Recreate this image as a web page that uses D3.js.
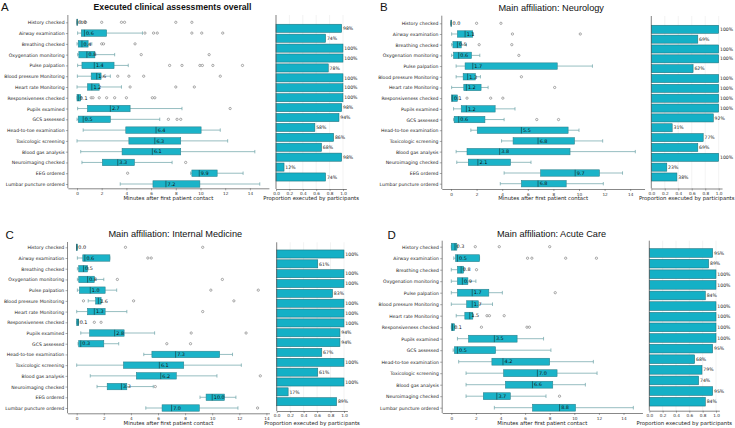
<!DOCTYPE html>
<html><head><meta charset="utf-8">
<script src="https://cdn.jsdelivr.net/npm/d3@7"></script>
<style>body{margin:0;background:#fff}svg{display:block}</style>
</head><body>
<svg id="c" width="735" height="428"></svg>
<script>
// ---------------- DATA ----------------
const categories = ["History checked","Airway examination","Breathing checked","Oxygenation monitoring","Pulse palpation","Blood pressure Monitoring","Heart rate Monitoring","Responsiveness checked","Pupils examined","GCS assessed","Head-to-toe examination","Toxicologic screening","Blood gas analysis","Neuroimaging checked","EEG ordered","Lumbar puncture ordered"];
const categoriesD = ["History checked","Airway examination","Breathing checked","Oxygenation monitoring","Pulse palpation","Blood pressure Monitoring","Heart rate Monitoring","Responsiveness checked","Pupils examined","GCS assessed","Head-to-toe examination","Toxicologic screening","Blood gas analysis","Neuroimaging checked","Lumbar puncture ordered"];
const panelLetters = ["A","B","C","D"];
const panelTitles = ["Executed clinical assessments overall","Main affiliation: Neurology","Main affiliation: Internal Medicine","Main affiliation: Acute Care"];
const minuteTicks = [0,2,4,6,8,10,12,14];
const proportionTicks = [0,0.2,0.4,0.6,0.8,1.0];
const minutesTitle = "Minutes after first patient contact";
const proportionTitle = "Proportion executed by participants";

// box stats per row: [whisker low, Q1, median, Q3, whisker high] (minutes)
const boxA = [[0,0,0.0,0.05,0.1],[0.05,0.35,0.6,2.4,5.3],[0,0.1,0.4,0.9,1.2],[0.05,0.15,0.8,1.45,3.05],[0.05,0.4,1.4,3.0,4.15],[0.03,1.15,1.6,1.95,2.7],[0,0.85,1.2,1.8,3.6],[0,0,0.1,0.3,0.35],[0.05,0.85,2.7,4.3,8.5],[0,0.1,0.5,2.7,6.7],[0.5,3.95,6.4,10.05,11.6],[0,4.2,6.3,8.4,12.2],[0.3,3.65,6.1,8.4,14.4],[0.4,2.05,3.3,4.65,7.7],[9.2,9.3,9.9,11.35,13.45],[3.5,6.15,7.2,9.95,14.8]];
const outA = [[0.4,0.7,2.0,3.6,3.85,8.0,9.3],[5.5,6.2,6.5,9.3,10.1,11.8],[2.0,2.15,4.7],[5.2,10.7],[7.5,8.5,9.95,10.15,11.0,13.4],[3.3,4.2,5.4,11.6],[4.3,8.0,9.5],[1.15,1.3,1.8,2.4,3.05,4.0,6.1,6.3],[12.4],[7.4,8.1,8.4],[],[],[],[8.8],[4.1],[]];
const propA = [0.98,0.74,1,1,0.78,1,1,1,0.98,0.94,0.58,0.86,0.68,0.98,0.12,0.74];

const boxB = [[0,0,0.0,0,0],[0.05,0.5,1.1,1.7,1.75],[0.05,0.15,0.5,0.8,1.2],[0.05,0.2,0.6,1.6,2.25],[0.4,1.1,1.7,8.3,11.05],[0.4,0.95,1.3,1.9,2.3],[0.05,1.0,1.2,2.35,2.9],[0.05,0.05,0.1,0.5,0.55],[0.2,0.8,1.2,3.45,5.0],[0.2,0.25,0.6,2.65,4.15],[1.55,2.05,5.5,9.15,10.0],[3.95,4.85,6.8,9.65,11.85],[0.4,1.25,3.8,9.3,14.4],[0.45,1.35,2.1,4.65,6.25],[4.15,7.0,9.7,11.6,13.4],[3.85,5.5,6.8,9.0,11.9]];
const outB = [[2.0,3.9],[4.8,10.1],[2.2,4.75],[5.3],[],[5.5],[8.1],[1.25,3.1,4.05],[],[6.7,8.4],[],[],[],[],[],[]];
const propB = [1,0.69,1,1,0.62,1,1,1,1,0.92,0.31,0.77,0.69,1,0.23,0.38];

const boxC = [[0,0,0.0,0.05,0.05],[0.05,0.45,0.6,2.45,2.45],[0.05,0.15,0.5,0.8,0.85],[0.05,0.15,0.8,1.3,2.0],[0.05,0.2,1.0,2.1,2.95],[0.85,1.4,1.6,1.8,1.9],[0,0.8,1.3,2.1,3.7],[0,0,0.1,0.15,0.15],[0.3,0.95,2.8,3.5,5.75],[0.1,0.15,0.3,2.0,3.1],[4.95,5.55,7.3,10.55,11.5],[0,3.45,6.1,7.9,12.15],[1.0,4.4,6.2,7.35,10.35],[1.5,2.25,3.3,3.7,5.65],[9.1,9.55,10.0,10.9,11.75],[5.1,6.3,7.0,9.05,11.9]];
const outC = [[3.6,9.3],[5.25,5.5],[],[3.0,10.75],[9.9,13.4],[0.5,4.2,11.6],[9.3],[1.3,1.8],[8.45,12.5],[6.65,8.4],[],[],[13.55],[5.8],[],[13.35]];
const propC = [1,0.61,1,1,0.83,1,1,1,0.94,0.94,0.67,1,0.61,1,0.17,0.89];

const boxD = [[0,0,0.3,0.45,0.5],[0.2,0.35,0.5,2.3,2.3],[0,0.5,0.8,1.0,1.05],[0,0.5,0.9,1.35,2.0],[0,0.5,1.7,3.05,4.15],[0,1.25,1.7,2.2,3.35],[0.4,1.1,1.5,1.75,1.8],[0,0,0.1,0.27,0.3],[0.5,1.4,3.5,5.35,7.5],[0.15,0.25,0.5,3.6,8.1],[0.6,3.3,4.2,8.0,11.55],[1.2,4.25,7.0,8.6,11.85],[1.2,4.4,6.6,8.25,10.9],[1.2,2.6,3.7,4.8,7.7],[3.5,6.6,8.8,10.1,14.8]];
const outD = [[1.95,3.9,8.0],[6.2,6.55,9.3,11.8],[2.05],[],[8.45],[],[2.9,3.1,4.3],[2.45,6.15,6.35],[],[],[],[],[],[8.8],[]];
const propD = [0.95,0.89,1,1,0.84,1,1,1,1,0.95,0.68,0.79,0.74,0.95,0.84];

// ---------------- LAYOUT (positions only) ----------------
const layouts = [
  {letter:[1,10.7], title:[172.5,10], bold:true, titleSize:8.7,
   box:{zero:77, ppu:12.35, first:22.3, last:184, top:15, axisY:188.3, titleY:200.3},
   bar:{x0:276, x1:343, first:28.3, last:177, top:15, axisY:189, titleY:200.3}},
  {letter:[380,10.7], title:[551.2,10.7], bold:false, titleSize:9.2,
   box:{zero:451, ppu:12.8, first:23.3, last:183.7, top:15.7, axisY:189, titleY:200.3},
   bar:{x0:651.3, x1:718.7, first:29.3, last:177, top:16, axisY:188.5, titleY:200.3}},
  {letter:[5.5,238.7], title:[175.3,237.3], bold:false, titleSize:9.2,
   box:{zero:76.7, ppu:13.55, first:247.3, last:408, top:242, axisY:413.3, titleY:424.6},
   bar:{x0:276.7, x1:344, first:254, last:401.7, top:242.3, axisY:411, titleY:424.6}},
  {letter:[387.5,238.7], title:[551.5,237.3], bold:false, titleSize:9.2,
   box:{zero:451.3, ppu:12.3, first:246.7, last:407.7, top:240.7, axisY:413, titleY:424.6},
   bar:{x0:649.3, x1:716, first:253, last:401.7, top:240.7, axisY:410.7, titleY:424.6}}
];

const panelData = [
  {cats:categories, box:boxA, out:outA, prop:propA},
  {cats:categories, box:boxB, out:outB, prop:propB},
  {cats:categories, box:boxC, out:outC, prop:propC},
  {cats:categoriesD, box:boxD, out:outD, prop:propD}
];

// ---------------- STYLE ----------------
const FONT = "'DejaVu Sans', sans-serif";
const TFONT = "'Liberation Sans', Arial, sans-serif";
const boxFill = "#1bb3c8", boxStroke = "#2a7f8a", whiskerColor = "#6aa2a6", medianColor = "#16464c";
const barFill = "#14b0c6", barStroke = "#1f6f79";
const axisColor = "#555";

const svg = d3.select("#c");

function drawPanel(i) {
  const L = layouts[i], D = panelData[i];
  const g = svg.append("g");
  const n = D.cats.length;

  g.append("text").attr("x", L.letter[0]).attr("y", L.letter[1]).text(panelLetters[i])
    .style("font-family", TFONT).style("font-size", "11.5px").style("fill", "#111");
  g.append("text").attr("x", L.title[0]).attr("y", L.title[1]).attr("text-anchor", "middle")
    .text(panelTitles[i]).style("font-family", TFONT).style("font-size", L.titleSize + "px")
    .style("font-weight", L.bold ? "bold" : "normal").style("fill", "#111");

  // ---- box plot ----
  const B = L.box;
  const all = D.box.flat().concat(D.out.flat());
  const lo = d3.min(all), hi = d3.max(all), pad = (hi - lo) * 0.05;
  const dom = [lo - pad, hi + pad];
  const x = d3.scaleLinear().domain(dom).range(dom.map(v => B.zero + v * B.ppu));
  const y = d3.scaleLinear().domain([0, n - 1]).range([B.first, B.last]);
  const step = (B.last - B.first) / (n - 1);
  const bh = step * 0.6, ch = step * 0.26;
  const bx = g.append("g");

  // spines
  bx.append("line").attr("x1", x.range()[0]).attr("x2", x.range()[0]).attr("y1", B.top).attr("y2", B.axisY)
    .attr("stroke", axisColor).attr("stroke-width", 0.7);
  const xa = bx.append("g").attr("transform", `translate(0,${B.axisY})`)
    .call(d3.axisBottom(x).tickValues(minuteTicks).tickSize(2).tickPadding(1.6).tickSizeOuter(0));
  xa.select(".domain").attr("stroke", axisColor).attr("stroke-width", 0.7);
  xa.selectAll(".tick line").attr("stroke", axisColor).attr("stroke-width", 0.5);
  xa.selectAll(".tick text").style("font-family", FONT).style("font-size", "4.2px").style("fill", "#333");

  const ya = bx.append("g").attr("transform", `translate(${x.range()[0]},0)`)
    .call(d3.axisLeft(y).tickValues(d3.range(n)).tickFormat(j => D.cats[j]).tickSize(2).tickPadding(1.3));
  ya.select(".domain").remove();
  ya.selectAll(".tick line").attr("stroke", axisColor).attr("stroke-width", 0.5);
  ya.selectAll(".tick text").style("font-family", FONT).style("font-size", "4.6px").style("fill", "#222");

  bx.append("text").attr("x", (x.range()[0] + x.range()[1]) / 2).attr("y", B.titleY).attr("text-anchor", "middle")
    .text(minutesTitle).style("font-family", FONT).style("font-size", "5.35px").style("fill", "#222");

  D.box.forEach((s, j) => {
    const [wl, q1, med, q3, wh] = s;
    const cy = y(j);
    const row = bx.append("g");
    row.append("line").attr("x1", x(wl)).attr("x2", x(q1)).attr("y1", cy).attr("y2", cy)
      .attr("stroke", whiskerColor).attr("stroke-width", 0.7);
    row.append("line").attr("x1", x(q3)).attr("x2", x(wh)).attr("y1", cy).attr("y2", cy)
      .attr("stroke", whiskerColor).attr("stroke-width", 0.7);
    [wl, wh].forEach(v => row.append("line").attr("x1", x(v)).attr("x2", x(v))
      .attr("y1", cy - ch / 2 - 0.3).attr("y2", cy + ch / 2 + 0.3).attr("stroke", whiskerColor).attr("stroke-width", 0.7));
    row.append("rect").attr("x", x(q1)).attr("y", cy - bh / 2).attr("width", Math.max(0.6, x(q3) - x(q1))).attr("height", bh)
      .attr("fill", boxFill).attr("stroke", boxStroke).attr("stroke-width", 0.55);
    row.append("line").attr("x1", x(med)).attr("x2", x(med)).attr("y1", cy - bh / 2).attr("y2", cy + bh / 2)
      .attr("stroke", medianColor).attr("stroke-width", 0.7);
    D.out[j].forEach(v => row.append("circle").attr("cx", x(v)).attr("cy", cy).attr("r", 1.15)
      .attr("fill", "#fff").attr("stroke", "#666").attr("stroke-width", 0.55));
    row.append("text").attr("x", x(med) + 1.6).attr("y", cy).attr("dy", "0.36em").text(med.toFixed(1))
      .style("font-family", FONT).style("font-size", "4.9px").style("fill", "#111");
  });

  // ---- bar chart ----
  const R = L.bar;
  const xb = d3.scaleLinear().domain([0, 1]).range([R.x0, R.x1]);
  const yb = d3.scaleLinear().domain([0, n - 1]).range([R.first, R.last]);
  const bstep = (R.last - R.first) / (n - 1);
  const barH = bstep * 0.82;
  const br = g.append("g");
  proportionTicks.forEach(t => br.append("line").attr("x1", xb(t)).attr("x2", xb(t)).attr("y1", R.top).attr("y2", R.axisY)
    .attr("stroke", "#e6e6e6").attr("stroke-width", 0.5));
  D.prop.forEach((p, j) => {
    br.append("rect").attr("x", xb(0)).attr("y", yb(j) - barH / 2).attr("width", xb(p) - xb(0)).attr("height", barH)
      .attr("fill", barFill).attr("stroke", barStroke).attr("stroke-width", 0.55);
    br.append("text").attr("x", xb(p) + 1.3).attr("y", yb(j)).attr("dy", "0.36em").text(Math.round(p * 100) + "%")
      .style("font-family", FONT).style("font-size", "4.6px").style("fill", "#222");
  });
  br.append("line").attr("x1", xb(0)).attr("x2", xb(0)).attr("y1", R.top).attr("y2", R.axisY)
    .attr("stroke", axisColor).attr("stroke-width", 0.7);
  const xba = br.append("g").attr("transform", `translate(0,${R.axisY})`)
    .call(d3.axisBottom(xb.copy().domain([0, 1.05]).range([R.x0, xb(1.05)])).tickValues(proportionTicks)
      .tickFormat(d3.format(".1f")).tickSize(2).tickPadding(1.4).tickSizeOuter(0));
  xba.select(".domain").attr("stroke", axisColor).attr("stroke-width", 0.7);
  xba.selectAll(".tick line").attr("stroke", axisColor).attr("stroke-width", 0.5);
  xba.selectAll(".tick text").style("font-family", FONT).style("font-size", "4.2px").style("fill", "#333");
  br.append("text").attr("x", (R.x0 + xb(1.05)) / 2).attr("y", R.titleY).attr("text-anchor", "middle")
    .text(proportionTitle).style("font-family", FONT).style("font-size", "5.35px").style("fill", "#222");
}

[0, 1, 2, 3].forEach(drawPanel);
</script>
</body></html>
